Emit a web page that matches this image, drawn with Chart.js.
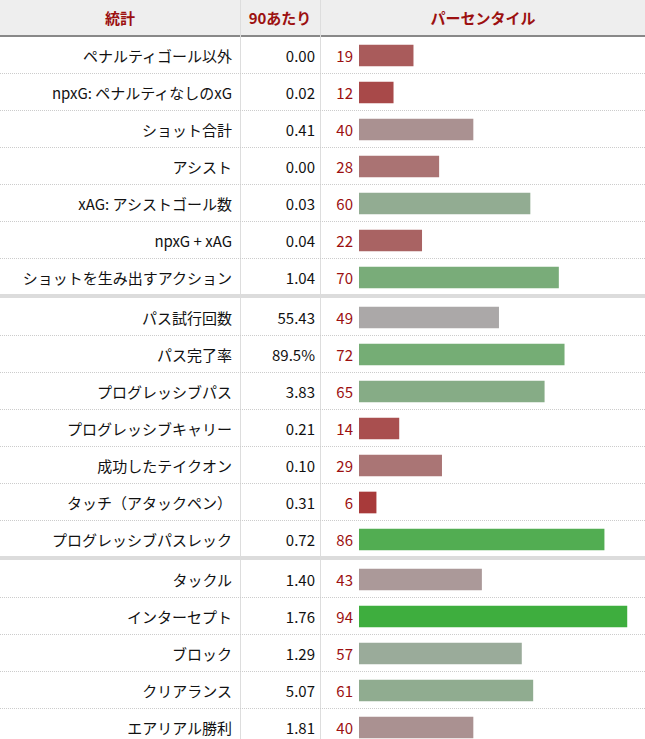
<!DOCTYPE html>
<html><head><meta charset="utf-8">
<script src="https://cdn.jsdelivr.net/npm/chart.js@4"></script>
<style>
body{margin:0;width:645px;height:739px;overflow:hidden;background:#fff;font-family:"Noto Sans CJK JP","Noto Sans",sans-serif;position:relative}
.a{position:absolute;white-space:nowrap}
.hd{top:0;height:35px;line-height:35px;font-weight:bold;color:#9c1010;font-size:15px;text-align:center}
.lab{font-size:15px;color:#111;text-align:right;height:37px;line-height:37px}
.pct{font-size:15px;color:#9c1010;text-align:right;height:37px;line-height:37px}
</style></head><body>
<div class="a" style="left:0;top:0;width:645px;height:35px;background:#eeeeee"></div>
<div class="a" style="left:0;top:35px;width:645px;height:2px;background:#888"></div>
<div class="a" style="left:240px;top:0;width:1px;height:739px;background:#ddd"></div>
<div class="a" style="left:320px;top:0;width:1px;height:739px;background:#ddd"></div>
<div class="a hd" style="left:0;width:240px">統計</div>
<div class="a hd" style="left:240px;width:80px">90あたり</div>
<div class="a hd" style="left:321px;width:324px">パーセンタイル</div>
<script>
const statsG1=["ペナルティゴール以外","npxG: ペナルティなしのxG","ショット合計","アシスト","xAG: アシストゴール数","npxG + xAG","ショットを生み出すアクション"];
const per90G1=["0.00","0.02","0.41","0.00","0.03","0.04","1.04"];
const pctG1=[19,12,40,28,60,22,70];
const statsG2=["パス試行回数","パス完了率","プログレッシブパス","プログレッシブキャリー","成功したテイクオン","タッチ（アタックペン）","プログレッシブパスレック"];
const per90G2=["55.43","89.5%","3.83","0.21","0.10","0.31","0.72"];
const pctG2=[49,72,65,14,29,6,86];
const statsG3=["タックル","インターセプト","ブロック","クリアランス","エアリアル勝利"];
const per90G3=["1.40","1.76","1.29","5.07","1.81"];
const pctG3=[43,94,57,61,40];

function colorFor(p){
  const g=[171,171,171];
  let c;
  if(p<50){const t=(50-p)/44;c=[g[0]+(168-g[0])*t,g[1]+(58-g[1])*t,g[2]+(58-g[2])*t];}
  else{const t=(p-50)/44;c=[g[0]+(62-g[0])*t,g[1]+(174-g[1])*t,g[2]+(62-g[2])*t];}
  return `rgb(${c.map(Math.round).join(',')})`;
}
const groups=[[statsG1,per90G1,pctG1,37],[statsG2,per90G2,pctG2,299],[statsG3,per90G3,pctG3,561]];
const RH=37;
groups.forEach(([st,pv,pc,top],gi)=>{
  st.forEach((s,i)=>{
    const y=top+i*RH;
    document.body.insertAdjacentHTML('beforeend',
      `<div class="a lab" style="left:0;width:232px;top:${y}px">${s}</div>`+
      `<div class="a lab" style="left:240px;width:75px;top:${y}px">${pv[i]}</div>`+
      `<div class="a pct" style="left:321px;width:32px;top:${y}px">${pc[i]}</div>`+
      (i<st.length-1?`<div class="a" style="left:0;top:${y+RH-1}px;width:645px;border-top:1px dotted #ccc"></div>`:''));
  });
  if(gi<2){document.body.insertAdjacentHTML('beforeend',
    `<div class="a" style="left:0;top:${top+st.length*RH-2}px;width:645px;height:4px;background:#dcdcdc"></div>`);}
  const d=document.createElement('div');d.className='a';
  d.style.cssText=`left:359px;top:${top}px;width:285px;height:${st.length*RH}px`;
  const cv=document.createElement('canvas');d.appendChild(cv);document.body.appendChild(d);
  new Chart(cv,{type:'bar',data:{labels:st,datasets:[{data:pc,backgroundColor:pc.map(colorFor),barThickness:21}]},
    options:{indexAxis:'y',responsive:true,maintainAspectRatio:false,animation:false,
      layout:{padding:0},plugins:{legend:{display:false},tooltip:{enabled:false}},
      scales:{x:{display:false,min:0,max:100},y:{display:false}}}});
});
</script>
</body></html>
